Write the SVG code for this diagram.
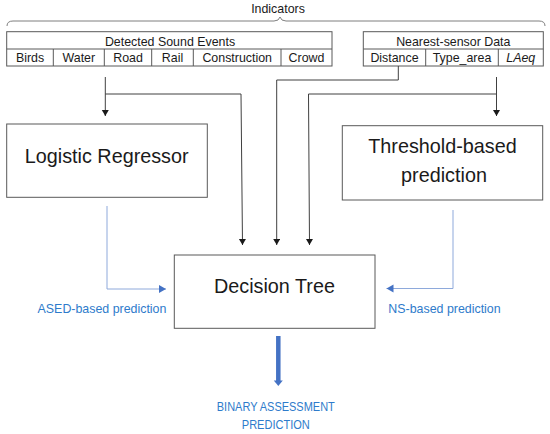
<svg xmlns="http://www.w3.org/2000/svg" width="550" height="434" viewBox="0 0 550 434">
<style>
  .bg { fill: #ffffff; }
  .box { fill: #ffffff; stroke: #595959; stroke-width: 1; }
  .cell { fill: none; stroke: #595959; stroke-width: 1; }
  .t { font-family: "Liberation Sans", Arial, sans-serif; fill: #1a1a1a; text-anchor: middle; }
  .small { font-size: 12.4px; }
  .big { font-size: 19.8px; }
  .blue { fill: #2E7BCB; }
  .conn { fill: none; stroke: #404040; stroke-width: 1; }
  .bconn { fill: none; stroke: #8EA9DB; stroke-width: 1; }
  .brace { fill: none; stroke: #7f7f7f; stroke-width: 1; }
</style>
<defs>
  <marker id="ah" markerUnits="userSpaceOnUse" markerWidth="8" markerHeight="8" refX="6" refY="3.5" orient="auto">
    <path d="M0,0 L6,3.5 L0,7 Z" fill="#1a1a1a"/>
  </marker>
  <marker id="bh" markerUnits="userSpaceOnUse" markerWidth="9" markerHeight="9" refX="7" refY="4" orient="auto">
    <path d="M0,0 L7,4 L0,8 Z" fill="#4472C4"/>
  </marker>
</defs>
<rect class="bg" x="0" y="0" width="550" height="434"/>

<g id="indicators">
  <path class="brace" d="M7,26 Q7,21 13,21 L274,21 Q279,21 280,17 Q281,21 286,21 L539,21 Q545,21 545,26"/>
  <text class="t small" x="278" y="13.3">Indicators</text>
</g>

<g id="detected-sound-events">
  <rect class="box" x="6.7" y="31.7" width="325.3" height="34.3"/>
  <line class="cell" x1="6.7" y1="49" x2="332" y2="49"/>
  <line class="cell" x1="53.3" y1="49" x2="53.3" y2="66"/>
  <line class="cell" x1="104.3" y1="49" x2="104.3" y2="66"/>
  <line class="cell" x1="151.7" y1="49" x2="151.7" y2="66"/>
  <line class="cell" x1="193.3" y1="49" x2="193.3" y2="66"/>
  <line class="cell" x1="281" y1="49" x2="281" y2="66"/>
  <text class="t small" x="170" y="45.7">Detected Sound Events</text>
  <text class="t small" x="30" y="62.3">Birds</text>
  <text class="t small" x="78.8" y="62.3">Water</text>
  <text class="t small" x="128" y="62.3">Road</text>
  <text class="t small" x="172.5" y="62.3">Rail</text>
  <text class="t small" x="237.2" y="62.3">Construction</text>
  <text class="t small" x="306.5" y="62.3">Crowd</text>
</g>

<g id="nearest-sensor-data">
  <rect class="box" x="363.3" y="31.7" width="180" height="34.3"/>
  <line class="cell" x1="363.3" y1="49" x2="543.3" y2="49"/>
  <line class="cell" x1="425.7" y1="49" x2="425.7" y2="66"/>
  <line class="cell" x1="498.3" y1="49" x2="498.3" y2="66"/>
  <text class="t small" x="453.3" y="45.7">Nearest-sensor Data</text>
  <text class="t small" x="394.5" y="62.3">Distance</text>
  <text class="t small" x="462" y="62.3">Type_area</text>
  <text class="t small" x="520.8" y="62.3" font-style="italic">LAeq</text>
</g>

<g id="logistic-regressor">
  <rect class="box" x="6.7" y="124" width="200.6" height="73.3"/>
  <text class="t big" x="106.7" y="162.7">Logistic Regressor</text>
</g>

<g id="threshold-based-prediction">
  <rect class="box" x="342.3" y="125.7" width="200.4" height="74.3"/>
  <text class="t big" x="442.5" y="153.3">Threshold-based</text>
  <text class="t big" x="444" y="181.7">prediction</text>
</g>

<g id="decision-tree">
  <rect class="box" x="174.3" y="255" width="200.7" height="73.3"/>
  <text class="t big" x="274.5" y="293.3">Decision Tree</text>
</g>

<g id="labels">
  <text class="t small blue" x="102" y="313.3">ASED-based prediction</text>
  <text class="t small blue" x="444.5" y="313.3">NS-based prediction</text>
  <text class="t blue" font-size="13px" x="275.8" y="411" textLength="118" lengthAdjust="spacingAndGlyphs">BINARY ASSESSMENT</text>
  <text class="t blue" font-size="13px" x="275.8" y="429" textLength="68" lengthAdjust="spacingAndGlyphs">PREDICTION</text>
</g>

<g id="connectors">
  <path class="conn" d="M105.3,77 L105.3,116" marker-end="url(#ah)"/>
  <path class="conn" d="M105.3,94 L241,94 L242.5,245" marker-end="url(#ah)"/>
  <path class="conn" d="M398.3,66 L398.3,80 L276.7,80 L276.7,245" marker-end="url(#ah)"/>
  <path class="conn" d="M496.5,77 L496.5,116" marker-end="url(#ah)"/>
  <path class="conn" d="M496.5,94 L308.5,94 L309.5,245" marker-end="url(#ah)"/>
  <path class="bconn" d="M107,206 L107,289 L166,289" marker-end="url(#bh)"/>
  <path class="bconn" d="M453,210 L453,288.5 L386.5,288.5" marker-end="url(#bh)"/>
  <line x1="278.3" y1="336" x2="278.3" y2="381" stroke="#4472C4" stroke-width="4.5"/>
  <path d="M273.8,380.5 L282.8,380.5 L278.3,386 Z" fill="#4472C4"/>
</g>
</svg>
